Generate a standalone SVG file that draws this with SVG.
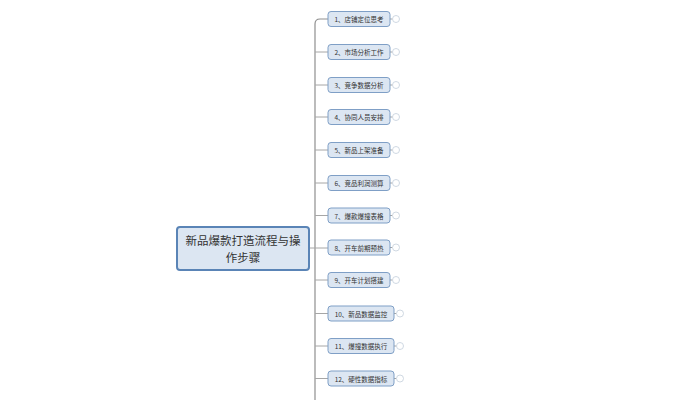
<svg xmlns="http://www.w3.org/2000/svg" width="698" height="400" viewBox="0 0 698 400">
<style>
.bg{fill:#ffffff}
.node rect{fill:#dce6f2;stroke:#7f9fc6;stroke-width:1}
.node text{font-family:"Noto Sans CJK SC","Noto Sans",sans-serif;font-size:6.5px;fill:#333;text-anchor:middle;dominant-baseline:central}
.root rect{fill:#dce6f2;stroke:#5a84b6;stroke-width:2}
.root text{font-family:"Noto Sans CJK SC","Noto Sans",sans-serif;font-size:11.5px;fill:#333;text-anchor:middle}
.ln{stroke:#a6a6a6;stroke-width:1;fill:none}
.vl{stroke:#8f8f8f;stroke-width:1.2;fill:none}
.tog{fill:#fff;stroke:#c3cedb;stroke-width:0.8}
</style>
<rect class="bg" x="0" y="0" width="698" height="400"/>
<g id="connectors">
<path class="vl" d="M328,19 H320 Q315,19 315,24 V400"/>
<path class="ln" d="M310,248 H328"/>
<path class="ln" d="M315,52 H328 M315,85 H328 M315,117 H328 M315,150 H328 M315,183 H328 M315,215.5 H328 M315,280 H328 M315,313.5 H328 M315,346 H328 M315,378.5 H328"/>
<path class="ln" d="M390,19 H392.5 M390,52 H392.5 M390,85 H392.5 M390,117 H392.5 M390,150 H392.5 M390,183 H392.5 M390,215.5 H392.5 M390,247.5 H392.5 M390,280 H392.5 M394,313.5 H396.5 M394,346 H396.5 M394,378.5 H396.5"/>
</g>
<g id="root" class="root">
<rect x="177" y="227" width="132" height="43" rx="3"/>
<text x="243" y="244.5">新品爆款打造流程与操</text>
<text x="243" y="261.5">作步骤</text>
</g>
<g id="n1" class="node"><rect x="328" y="11.5" width="62" height="15" rx="3"/><text x="359" y="19">1、店铺定位思考</text><circle class="tog" cx="396" cy="19" r="3.5"/></g>
<g id="n2" class="node"><rect x="328" y="44.5" width="62" height="15" rx="3"/><text x="359" y="52">2、市场分析工作</text><circle class="tog" cx="396" cy="52" r="3.5"/></g>
<g id="n3" class="node"><rect x="328" y="77.5" width="62" height="15" rx="3"/><text x="359" y="85">3、竞争数据分析</text><circle class="tog" cx="396" cy="85" r="3.5"/></g>
<g id="n4" class="node"><rect x="328" y="109.5" width="62" height="15" rx="3"/><text x="359" y="117">4、协同人员安排</text><circle class="tog" cx="396" cy="117" r="3.5"/></g>
<g id="n5" class="node"><rect x="328" y="142.5" width="62" height="15" rx="3"/><text x="359" y="150">5、新品上架准备</text><circle class="tog" cx="396" cy="150" r="3.5"/></g>
<g id="n6" class="node"><rect x="328" y="175.5" width="62" height="15" rx="3"/><text x="359" y="183">6、竞品利润测算</text><circle class="tog" cx="396" cy="183" r="3.5"/></g>
<g id="n7" class="node"><rect x="328" y="208" width="62" height="15" rx="3"/><text x="359" y="215.5">7、爆款爆搜表格</text><circle class="tog" cx="396" cy="215.5" r="3.5"/></g>
<g id="n8" class="node"><rect x="328" y="240" width="62" height="15" rx="3"/><text x="359" y="247.5">8、开车前期预热</text><circle class="tog" cx="396" cy="247.5" r="3.5"/></g>
<g id="n9" class="node"><rect x="328" y="272.5" width="62" height="15" rx="3"/><text x="359" y="280">9、开车计划搭建</text><circle class="tog" cx="396" cy="280" r="3.5"/></g>
<g id="n10" class="node"><rect x="328" y="306" width="66" height="15" rx="3"/><text x="361" y="313.5">10、新品数据监控</text><circle class="tog" cx="400" cy="313.5" r="3.5"/></g>
<g id="n11" class="node"><rect x="328" y="338.5" width="66" height="15" rx="3"/><text x="361" y="346">11、爆搜数据执行</text><circle class="tog" cx="400" cy="346" r="3.5"/></g>
<g id="n12" class="node"><rect x="328" y="371" width="66" height="15" rx="3"/><text x="361" y="378.5">12、硬性数据指标</text><circle class="tog" cx="400" cy="378.5" r="3.5"/></g>
</svg>
